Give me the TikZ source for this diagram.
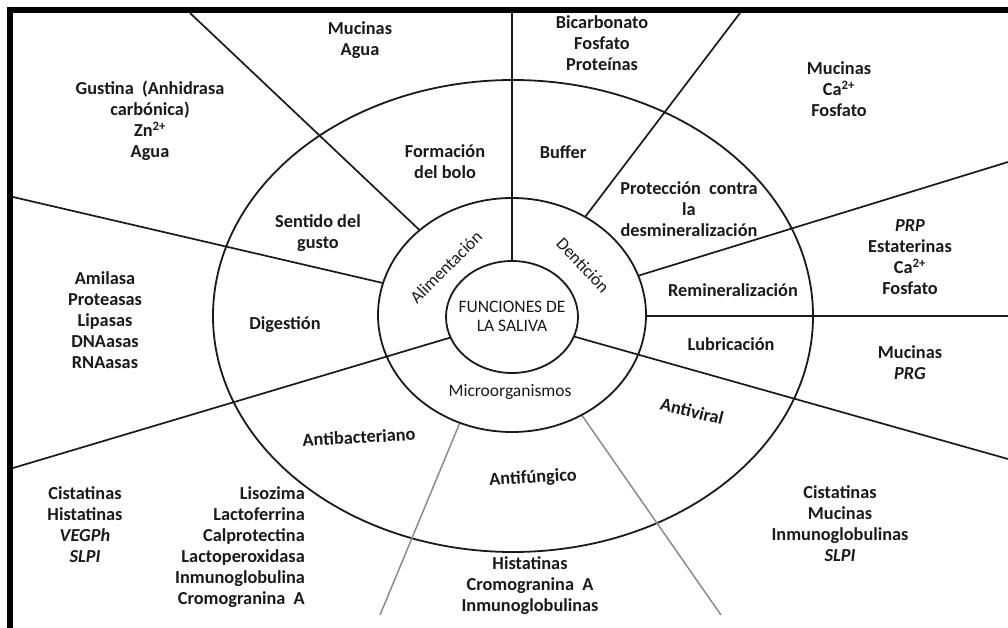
\documentclass[tikz,border=0pt]{standalone}
\usepackage{fontspec}
\setmainfont{Carlito}
\definecolor{ink}{HTML}{1A1A1A}
\definecolor{grayline}{HTML}{8C8C8C}
\begin{document}
\begin{tikzpicture}[x=1pt,y=-1pt,
 ring/.style={draw=ink,line width=1.8pt},
 ray/.style={draw=ink,line width=1.7pt},
 thickray/.style={draw=ink,line width=2.6pt},
 lightray/.style={draw=grayline,line width=1.5pt},
 lbl/.style={text=ink,font=\bfseries\fontsize{18.3}{21}\selectfont,align=center,inner sep=0pt},
 inlbl/.style={text=ink,font=\fontsize{17.5}{19}\selectfont,align=center,inner sep=0pt}]
\useasboundingbox (0,0) rectangle (1008,628);
\fill[white] (0,0) rectangle (1008,628);
% frame
\fill[black] (7,7) rectangle (1008,13);
\fill[black] (7,7) rectangle (13,628);
% outer ring
\coordinate (cOut) at (513,316);
\coordinate (cMid) at (512,315);
\coordinate (cIn) at (512,317);
\draw[ring] (cOut) ellipse [x radius=300pt, y radius=236pt];
% rays ending on the middle ring
\coordinate (r2a) at (190,13);   \coordinate (r2b) at (430,240);
\coordinate (r3a) at (13,197);   \coordinate (r3b) at (400,287);
\coordinate (r5a) at (380,615);  \coordinate (r5b) at (466,408);
\coordinate (r6a) at (721,615);  \coordinate (r6b) at (574,404);
\coordinate (r8a) at (1008,316); \coordinate (r8b) at (630,316);
\coordinate (r9a) at (1008,162); \coordinate (r9b) at (621,281);
\coordinate (r10a) at (740,13);  \coordinate (r10b) at (579,225);
\draw[ray] (r2a) -- (r2b);
\draw[ray] (r3a) -- (r3b);
\draw[lightray] (r5a) -- (r5b);
\draw[lightray] (r6a) -- (r6b);
\draw[ray] (r8a) -- (r8b);
\draw[ray] (r9a) -- (r9b);
\draw[ray] (r10a) -- (r10b);
\draw[ring,fill=white] (cMid) ellipse [x radius=134pt, y radius=117pt];
% rays ending on the inner circle
\coordinate (r1a) at (512,13);   \coordinate (r1b) at (512,285);
\coordinate (r4a) at (13,468);   \coordinate (r4b) at (469,332);
\coordinate (r7a) at (1008,459); \coordinate (r7b) at (558,332);
\draw[thickray] (r1a) -- (r1b);
\draw[ray] (r4a) -- (r4b);
\draw[ray] (r7a) -- (r7b);
\draw[ring,fill=white] (cIn) ellipse [x radius=66pt, y radius=56pt];
% centre
\node[inlbl] (center) at (512,316) {FUNCIONES DE\\LA SALIVA};
% inner ring labels
\node[inlbl,rotate=45] (alim) at (446,267) {Alimentación};
\node[inlbl,rotate=-47] (dent) at (583,265) {Dentición};
\node[inlbl] (micro) at (510,392) {Microorganismos};
% outer ring labels
\node[lbl] (bolo) at (445,162) {Formación\\del bolo};
\node[lbl] (buffer) at (563,152) {Buffer};
\node[lbl] (protec) at (689,209) {Protección\ \ contra\\la\\desmineralización};
\node[lbl] (gusto) at (318,233) {Sentido del\\gusto};
\node[lbl] (reminer) at (733,290) {Remineralización};
\node[lbl] (lubric) at (731,344) {Lubricación};
\node[lbl] (digest) at (285,325) {Digestión};
\node[lbl,rotate=-14] (antiviral) at (692,411) {Antiviral};
\node[lbl,rotate=3] (antibact) at (359,437) {Antibacteriano};
\node[lbl,rotate=3] (antifung) at (533,478) {Antifúngico};
% outside labels
\node[lbl] (t1) at (360,40) {Mucinas\\Agua};
\node[lbl] (t2) at (602,43) {Bicarbonato\\Fosfato\\Proteínas};
\node[lbl] (t3) at (839,89) {Mucinas\\Ca\textsuperscript{2+}\\Fosfato};
\node[lbl] (t4) at (150,121) {Gustina\ \ (Anhidrasa\\carbónica)\\Zn\textsuperscript{2+}\\Agua};
\node[lbl] (t5) at (910,257) {\textit{PRP}\\Estaterinas\\Ca\textsuperscript{2+}\\Fosfato};
\node[lbl] (t6) at (910,363) {Mucinas\\\textit{PRG}};
\node[lbl] (t7) at (105,320) {Amilasa\\Proteasas\\Lipasas\\DNAasas\\RNAasas};
\node[lbl] (t8) at (85,525) {Cistatinas\\Histatinas\\\textit{VEGPh}\\\textit{SLPI}};
\node[lbl,align=right,anchor=east] (t9) at (305,547) {Lisozima\\Lactoferrina\\Calprotectina\\Lactoperoxidasa\\Inmunoglobulina\\Cromogranina\ \ A};
\node[lbl] (t10) at (530,586) {Histatinas\\Cromogranina\ \ A\\Inmunoglobulinas};
\node[lbl] (t11) at (840,524) {Cistatinas\\Mucinas\\Inmunoglobulinas\\\textit{SLPI}};
\end{tikzpicture}
\end{document}
